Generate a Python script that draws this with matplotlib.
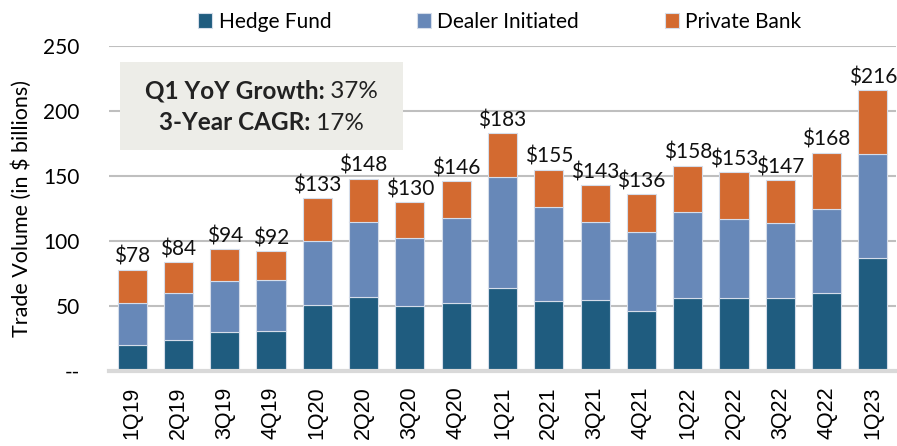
import numpy as np
import matplotlib.pyplot as plt

quarters = ['1Q19', '2Q19', '3Q19', '4Q19', '1Q20', '2Q20', '3Q20', '4Q20', '1Q21',
            '2Q21', '3Q21', '4Q21', '1Q22', '2Q22', '3Q22', '4Q22', '1Q23']
hedge_fund = [20, 24, 30, 31, 51, 57, 50, 52, 64, 54, 55, 46, 56, 56, 56, 60, 87]
dealer = [32, 36, 39, 39, 49, 58, 52, 66, 85, 72, 60, 61, 66, 61, 58, 65, 80]
totals = [78, 84, 94, 92, 133, 148, 130, 146, 183, 155, 143, 136, 158, 153, 147, 168, 216]
private_bank = [t - h - d for t, h, d in zip(totals, hedge_fund, dealer)]

c_hf = '#1F5C7F'
c_dl = '#6788B8'
c_pb = '#D36A30'

plt.rcParams['font.family'] = ['Lato', 'DejaVu Sans']

fig = plt.figure(figsize=(8.97, 4.46), dpi=100)
ax = fig.add_axes([109 / 897, 1 - 371 / 446, 787 / 897, 325 / 446])

x = np.arange(len(quarters))
w = 0.63
ec = '#D5DDEA'
ax.bar(x, hedge_fund, w, color=c_hf, edgecolor=ec, linewidth=0.8, label='Hedge Fund', zorder=3)
ax.bar(x, dealer, w, bottom=hedge_fund, color=c_dl, edgecolor=ec, linewidth=0.8,
       label='Dealer Initiated', zorder=3)
bot2 = [h + d for h, d in zip(hedge_fund, dealer)]
ax.bar(x, private_bank, w, bottom=bot2, color=c_pb, edgecolor=ec, linewidth=0.8,
       label='Private Bank', zorder=3)

for xi, t in zip(x, totals):
    ax.annotate('$' + str(t), (xi, t), xytext=(0, 2), textcoords='offset points',
                ha='center', va='bottom', fontsize=15, color='#111111')

ax.set_xlim(-0.5, len(quarters) - 0.5)
ax.set_ylim(0, 250)
ax.set_yticks([0, 50, 100, 150, 200, 250])
ax.set_yticklabels(['--', '50', '100', '150', '200', '250'], fontsize=15)
ax.set_xticks(x)
ax.set_xticklabels(quarters, rotation=90, fontsize=15.5, family=['Liberation Sans'])
ax.tick_params(axis='x', length=0, pad=11)
ax.tick_params(axis='y', length=0, pad=21)
ax.yaxis.grid(True, color='#BFBFBF', linewidth=1.5, zorder=0)
ax.set_axisbelow(True)
for s in ['top', 'right', 'left']:
    ax.spines[s].set_visible(False)
ax.spines['bottom'].set_color('#D9D9D9')
ax.spines['bottom'].set_linewidth(3)
ax.spines['bottom'].set_zorder(4)
ax.set_ylabel('Trade Volume (in $ billions)', fontsize=15.5)
ax.yaxis.set_label_coords(-77 / 787, 0.5)

fig.legend(loc='upper center', bbox_to_anchor=(0.557, 1.015), ncol=3, frameon=False,
           fontsize=15, handlelength=0.7, handleheight=0.7, handletextpad=0.3,
           columnspacing=4.1)

# annotation box
box = plt.Rectangle((120 / 897, 1 - 150 / 446), 283 / 897, 88 / 446, transform=fig.transFigure,
                    facecolor='#EDEDE8', edgecolor='none', zorder=5)
fig.add_artist(box)

fig.canvas.draw()
r = fig.canvas.get_renderer()
lines = [('Q1 YoY Growth:', ' 37%', 91), ('3-Year CAGR:', ' 17%', 123)]
cx = 261.5
for bold, reg, py in lines:
    tb = fig.text(0, 0, bold, fontsize=17.5, fontweight='bold', color='#222222')
    tr = fig.text(0, 0, reg, fontsize=17.5, color='#222222')
    wb = tb.get_window_extent(r).width
    wr = tr.get_window_extent(r).width
    x0 = cx - (wb + wr) / 2
    yy = 1 - py / 446
    tb.set_position((x0 / 897, yy))
    tb.set_va('center')
    tr.set_position(((x0 + wb) / 897, yy))
    tr.set_va('center')
    tb.set_zorder(6)
    tr.set_zorder(6)

fig.savefig('out.png', dpi=100)
